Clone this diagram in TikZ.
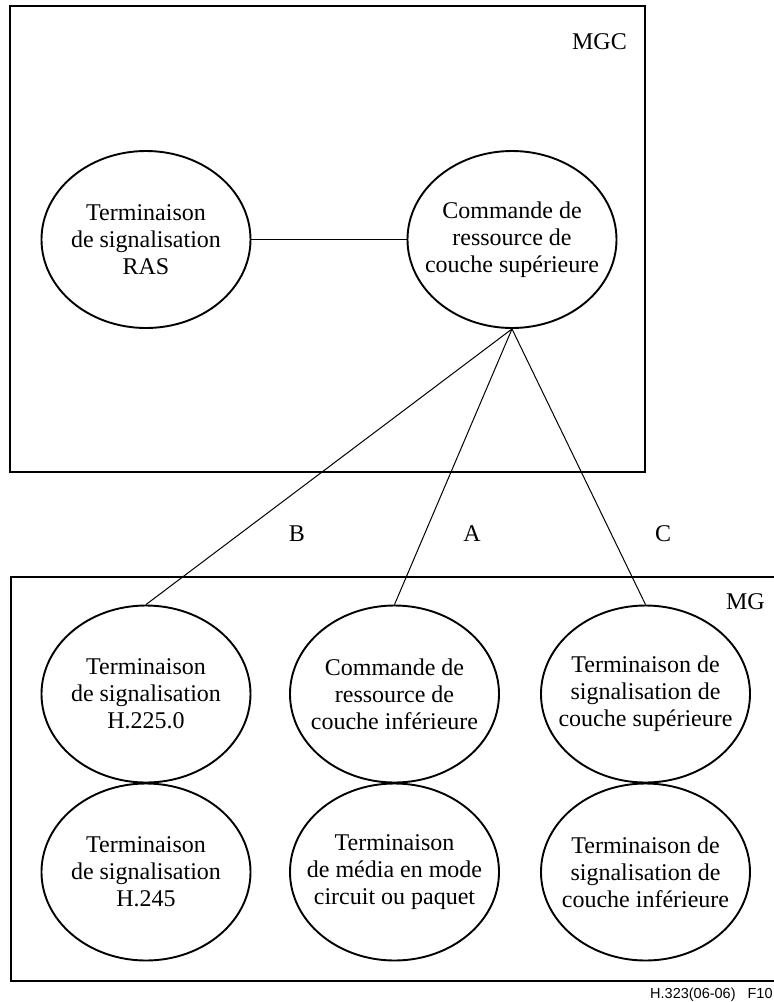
\documentclass[tikz,border=0pt]{standalone}
\usepackage{fontspec}
\setmainfont{Liberation Serif}
\newfontfamily\capfont{Liberation Sans}
\usetikzlibrary{shapes.geometric}
\begin{document}
\begin{tikzpicture}[x=1pt,y=-1pt,
  ent/.style={ellipse, draw, line width=1.9pt, minimum width=209pt, minimum height=177pt,
              inner xsep=-40pt, inner ysep=-20pt, align=center, font=\fontsize{24}{27}\selectfont},
  frame/.style={draw, line width=1.3pt},
  link/.style={draw, line width=1pt},
  lbl/.style={font=\fontsize{24}{27}\selectfont, inner sep=0pt}]
\useasboundingbox (0,0) rectangle (774,1002);

% controller and gateway frames
\draw[frame] (10,6) rectangle (645,472);
\draw[frame] (11,577) rectangle (786,981);
\node[lbl, anchor=east] (mgc) at (627,42) {MGC};
\node[lbl, anchor=east] (mg) at (765,602) {MG};

% controller entities
\node[ent] (ras) at (146,239.5) {Terminaison\\de signalisation\\RAS};
\node[ent] (hcr) at (512,239.5) {Commande de\\ressource de\\couche supérieure};

% gateway entities
\node[ent] (h225) at (146,694) {Terminaison\\de signalisation\\H.225.0};
\node[ent] (lcr)  at (394.5,694) {Commande de\\ressource de\\couche inférieure};
\node[ent] (hst)  at (645.5,694) {Terminaison de\\signalisation de\\couche supérieure};
\node[ent] (h245) at (146,872) {Terminaison\\de signalisation\\H.245};
\node[ent] (med)  at (394.5,872) {Terminaison\\de média en mode\\circuit ou paquet};
\node[ent] (lst)  at (645.5,872) {Terminaison de\\signalisation de\\couche inférieure};

% interfaces
\draw[link] (ras.east) -- (hcr.west);
\draw[link] (hcr.south) -- (h225.north);
\draw[link] (hcr.south) -- (lcr.north);
\draw[link] (hcr.south) -- (hst.north);
\node[lbl] (lb) at (297,534) {B};
\node[lbl] (la) at (472,534) {A};
\node[lbl] (lc) at (663,534) {C};

% figure reference
\node[anchor=base west, inner sep=0pt, font=\capfont\fontsize{14.5}{16}\selectfont] (ref) at (650,998) {H.323(06-06)\hspace{12pt}F10};
\end{tikzpicture}
\end{document}
